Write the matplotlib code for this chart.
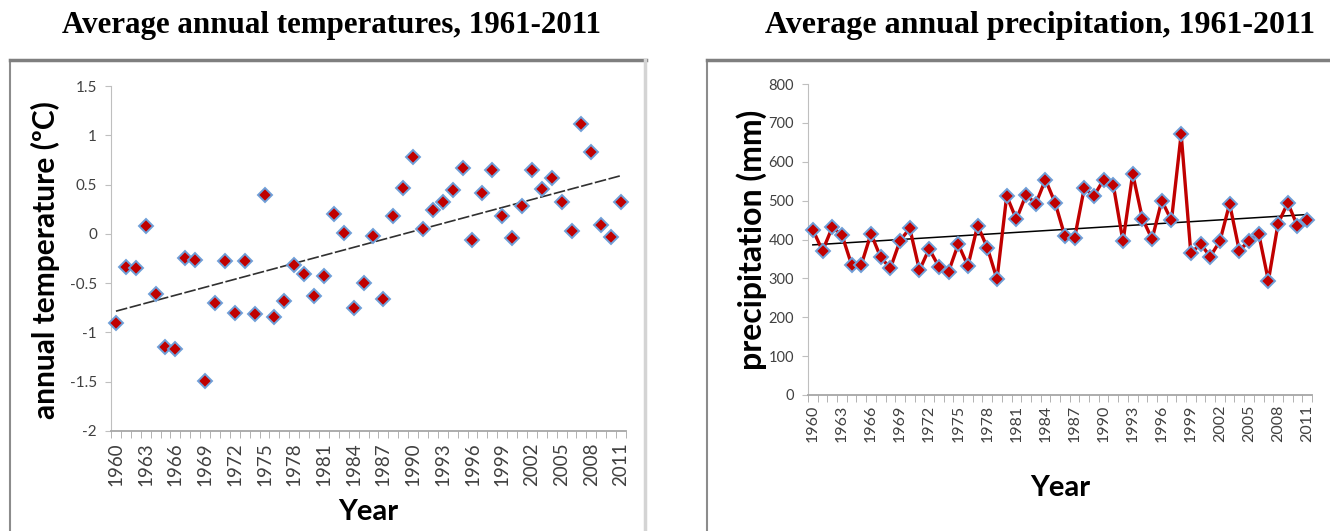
import numpy as np
import matplotlib.pyplot as plt
from matplotlib.lines import Line2D

# data (1960-2011)
years = list(range(1960, 2012))
temperature = [-0.90, -0.34, -0.35, 0.08, -0.61, -1.15, -1.17, -0.24, -0.27, -1.49,
               -0.70, -0.28, -0.80, -0.28, -0.81, 0.39, -0.84, -0.68, -0.32, -0.41,
               -0.63, -0.43, 0.20, 0.01, -0.75, -0.50, -0.02, -0.66, 0.18, 0.47,
               0.78, 0.05, 0.24, 0.32, 0.44, 0.67, -0.06, 0.41, 0.65, 0.18,
               -0.04, 0.28, 0.65, 0.46, 0.57, 0.32, 0.03, 1.11, 0.83, 0.09,
               -0.03, 0.32]
precipitation = [425, 371, 431, 412, 335, 335, 415, 354, 326, 397,
                 429, 321, 376, 330, 317, 388, 332, 436, 379, 298,
                 512, 452, 515, 492, 554, 494, 409, 403, 532, 512,
                 554, 540, 395, 569, 454, 401, 500, 449, 671, 364,
                 389, 356, 396, 492, 371, 397, 415, 294, 441, 494,
                 435, 451]
temp_ticks = [-2, -1.5, -1, -0.5, 0, 0.5, 1, 1.5]
temp_tick_labels = ['-2', '-1.5', '-1', '-0.5', '0', '0.5', '1', '1.5']
prec_ticks = [0, 100, 200, 300, 400, 500, 600, 700, 800]

W, H = 1330, 531
fig = plt.figure(figsize=(W / 100, H / 100), dpi=100)


def box(x0, y0, x1, y1):
    return [x0 / W, 1 - y1 / H, (x1 - x0) / W, (y1 - y0) / H]


def fline(xs, ys, **kw):
    fig.add_artist(Line2D([x / W for x in xs], [1 - y / H for y in ys],
                          transform=fig.transFigure, **kw))


# panel frames
fline([10, 10], [60, 540], color='#8c8c8c', lw=1.5)
fline([10, 646], [60, 60], color='#7f7f7f', lw=2.5)
fline([645, 645], [60, 540], color='#d4d4d4', lw=2.5)
fline([707, 707], [60, 540], color='#8c8c8c', lw=1.5)
fline([707, 1340], [60, 60], color='#7f7f7f', lw=2.5)

idx = np.arange(len(years))
tick_font = 'Lato'


def style(ax, xfs, xpad):
    ax.set_xlim(-0.5, len(years) - 0.5)
    ax.set_xticks(idx[::3])
    ax.set_xticklabels([str(y) for y in years[::3]], rotation=90,
                       fontsize=xfs, family=tick_font, color='#404040')
    ax.set_xticks(np.arange(-0.5, len(years), 1), minor=True)
    ax.tick_params(axis='x', which='major', length=0, pad=xpad)
    ax.tick_params(axis='x', which='minor', length=5, color='#a6a6a6', direction='out')
    ax.tick_params(axis='y', length=4, color='#bfbfbf', labelcolor='#404040', pad=6)
    for s in ['top', 'right']:
        ax.spines[s].set_visible(False)
    ax.spines['left'].set_color('#bfbfbf')
    ax.spines['bottom'].set_color('#a6a6a6')
    ax.spines['bottom'].set_linewidth(1.3)


# left: temperature
ax1 = fig.add_axes(box(111, 86, 626, 431))
style(ax1, 13.5, 8)
coef = np.polyfit(idx, temperature, 1)
ax1.plot(idx[[0, -1]], np.polyval(coef, idx[[0, -1]]), color='#303030', lw=1.2,
         dashes=(7, 1.5), zorder=2)
ax1.plot(idx, temperature, 'D', ms=7.5, mfc='#c00000', mec='#6f9fd8', mew=1.4, zorder=3,
         clip_on=False)
ax1.set_ylim(-2, 1.5)
ax1.set_yticks(temp_ticks)
ax1.set_yticklabels(temp_tick_labels, fontsize=11, family=tick_font)

# right: precipitation
ax2 = fig.add_axes(box(808, 84, 1312, 395))
style(ax2, 11.5, 7)
coef2 = np.polyfit(idx, precipitation, 1)
ax2.plot(idx[[0, -1]], np.polyval(coef2, idx[[0, -1]]), color='black', lw=1.1, zorder=2)
ax2.plot(idx, precipitation, '-', color='#c00000', lw=2.4, zorder=3)
ax2.plot(idx, precipitation, 'D', ms=7.5, mfc='#c00000', mec='#6f9fd8', mew=1.4, zorder=4,
         clip_on=False)
ax2.set_ylim(0, 800)
ax2.set_yticks(prec_ticks)
ax2.set_yticklabels([str(v) for v in prec_ticks], fontsize=10.5, family=tick_font)

# titles and axis titles
title_kw = dict(family='Liberation Serif', weight='bold', ha='center', va='center')
fig.text(331 / W, 1 - 25 / H, 'Average annual temperatures, 1961-2011', fontsize=22.3, **title_kw)
fig.text(1040 / W, 1 - 25 / H, 'Average annual precipitation, 1961-2011', fontsize=23, **title_kw)

lab_kw = dict(family='Lato', weight='bold', ha='center', va='center', rotation=90)
fig.text(45 / W, 1 - 260 / H, 'annual temperature (ºC)', fontsize=21.5, **lab_kw)
fig.text(752 / W, 1 - 240 / H, 'precipitation (mm)', fontsize=23, **lab_kw)

year_kw = dict(family='Lato', weight='bold', ha='center', va='center', fontsize=21)
fig.text(368 / W, 1 - 512 / H, 'Year', **year_kw)
fig.text(1060 / W, 1 - 488 / H, 'Year', **year_kw)

fig.savefig('out.png', dpi=100)
